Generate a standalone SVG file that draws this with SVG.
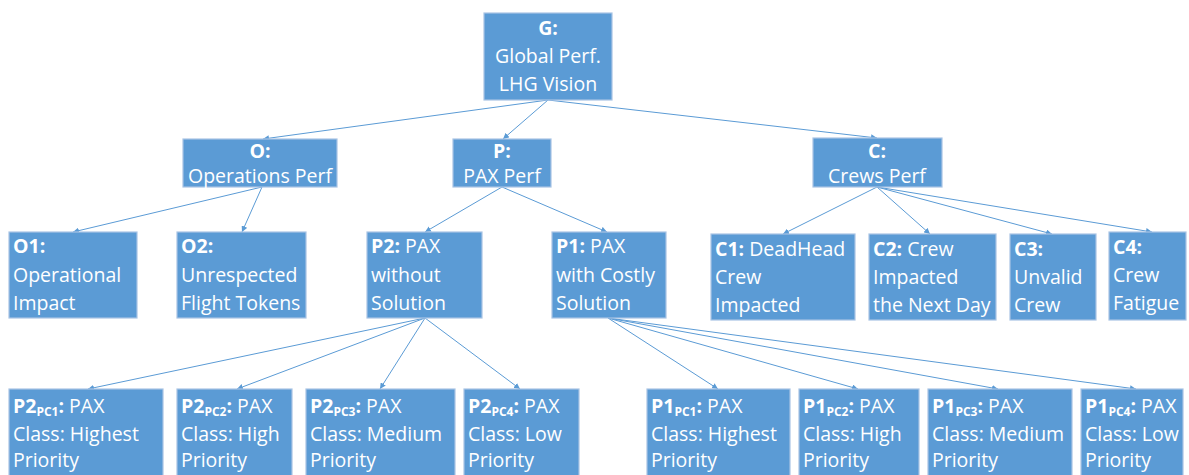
<svg xmlns="http://www.w3.org/2000/svg" width="1189" height="475" viewBox="0 0 1189 475">
<defs>
<marker id="ah" viewBox="0 0 10 10" refX="10" refY="5" markerWidth="6" markerHeight="6" orient="auto" markerUnits="userSpaceOnUse">
<path d="M0,0 L10,5 L0,10 z" fill="#5B9BD5"/>
</marker>
</defs>
<style>
.box{fill:#5B9BD5;stroke:#A9C4E4;stroke-width:1.2}
text{font-family:"Open Sans","Noto Sans",sans-serif;font-size:19.5px;fill:#ffffff}
.c{text-anchor:middle}
.b{font-weight:bold}
.s{font-size:12px;font-weight:bold}
.e{stroke:#5B9BD5;stroke-width:1;fill:none;marker-end:url(#ah)}
</style>
<rect width="1189" height="475" fill="#ffffff"/>
<g id="connectors">
<line class="e" x1="548" y1="100" x2="263" y2="139"/>
<line class="e" x1="548" y1="100" x2="503" y2="139"/>
<line class="e" x1="548" y1="100" x2="877" y2="138"/>
<line class="e" x1="262" y1="187" x2="73" y2="232"/>
<line class="e" x1="262" y1="187" x2="242" y2="232"/>
<line class="e" x1="502" y1="187" x2="425" y2="232"/>
<line class="e" x1="502" y1="187" x2="607" y2="232"/>
<line class="e" x1="877" y1="187" x2="783" y2="234"/>
<line class="e" x1="877" y1="187" x2="930" y2="234"/>
<line class="e" x1="877" y1="187" x2="1052" y2="234"/>
<line class="e" x1="877" y1="187" x2="1152" y2="232"/>
<line class="e" x1="425" y1="318" x2="88" y2="389"/>
<line class="e" x1="425" y1="318" x2="237" y2="389"/>
<line class="e" x1="425" y1="318" x2="380" y2="389"/>
<line class="e" x1="425" y1="318" x2="520" y2="389"/>
<line class="e" x1="608" y1="318" x2="718" y2="389"/>
<line class="e" x1="608" y1="318" x2="858" y2="389"/>
<line class="e" x1="608" y1="318" x2="998" y2="389"/>
<line class="e" x1="608" y1="318" x2="1136" y2="389"/>
</g>
<g id="G">
<rect class="box" x="484" y="13" width="128" height="87"/>
<text class="c b" x="548" y="35">G:</text>
<text class="c" x="548" y="63">Global Perf.</text>
<text class="c" x="548" y="91">LHG Vision</text>
</g>
<g id="O">
<rect class="box" x="183" y="139" width="154" height="48"/>
<text class="c b" x="260" y="158">O:</text>
<text class="c" x="260" y="183">Operations Perf</text>
</g>
<g id="P">
<rect class="box" x="453" y="139" width="98" height="48"/>
<text class="c b" x="502" y="158">P:</text>
<text class="c" x="502" y="183">PAX Perf</text>
</g>
<g id="C">
<rect class="box" x="813" y="138" width="129" height="49"/>
<text class="c b" x="877" y="158">C:</text>
<text class="c" x="877" y="183">Crews Perf</text>
</g>
<g id="O1">
<rect class="box" x="9" y="232" width="128" height="86"/>
<text class="b" x="13" y="253">O1:</text>
<text x="13" y="282">Operational</text>
<text x="13" y="310">Impact</text>
</g>
<g id="O2">
<rect class="box" x="177" y="232" width="129" height="86"/>
<text class="b" x="181" y="253">O2:</text>
<text x="181" y="282">Unrespected</text>
<text x="181" y="310">Flight Tokens</text>
</g>
<g id="P2">
<rect class="box" x="367" y="232" width="115" height="86"/>
<text x="371" y="253"><tspan class="b">P2:</tspan> PAX</text>
<text x="371" y="282">without</text>
<text x="371" y="310">Solution</text>
</g>
<g id="P1">
<rect class="box" x="552" y="232" width="114" height="86"/>
<text x="556" y="253"><tspan class="b">P1:</tspan> PAX</text>
<text x="556" y="282">with Costly</text>
<text x="556" y="310">Solution</text>
</g>
<g id="C1">
<rect class="box" x="711" y="234" width="144" height="86"/>
<text x="715" y="256"><tspan class="b">C1:</tspan> DeadHead</text>
<text x="715" y="284">Crew</text>
<text x="715" y="312">Impacted</text>
</g>
<g id="C2">
<rect class="box" x="869" y="234" width="127" height="86"/>
<text x="873" y="256"><tspan class="b">C2:</tspan> Crew</text>
<text x="873" y="284">Impacted</text>
<text x="873" y="312">the Next Day</text>
</g>
<g id="C3">
<rect class="box" x="1010" y="234" width="86" height="86"/>
<text class="b" x="1014" y="256">C3:</text>
<text x="1014" y="284">Unvalid</text>
<text x="1014" y="312">Crew</text>
</g>
<g id="C4">
<rect class="box" x="1109" y="232" width="77" height="88"/>
<text class="b" x="1113" y="254">C4:</text>
<text x="1113" y="282">Crew</text>
<text x="1113" y="310">Fatigue</text>
</g>
<g id="P2PC1">
<rect class="box" x="9" y="389" width="154" height="90"/>
<text x="13" y="413"><tspan class="b">P2</tspan><tspan class="s" dy="3">PC1</tspan><tspan class="b" dy="-3">:</tspan> PAX</text>
<text x="13" y="441">Class: Highest</text>
<text x="13" y="467">Priority</text>
</g>
<g id="P2PC2">
<rect class="box" x="177" y="389" width="115" height="90"/>
<text x="181" y="413"><tspan class="b">P2</tspan><tspan class="s" dy="3">PC2</tspan><tspan class="b" dy="-3">:</tspan> PAX</text>
<text x="181" y="441">Class: High</text>
<text x="181" y="467">Priority</text>
</g>
<g id="P2PC3">
<rect class="box" x="306" y="389" width="149" height="90"/>
<text x="310" y="413"><tspan class="b">P2</tspan><tspan class="s" dy="3">PC3</tspan><tspan class="b" dy="-3">:</tspan> PAX</text>
<text x="310" y="441">Class: Medium</text>
<text x="310" y="467">Priority</text>
</g>
<g id="P2PC4">
<rect class="box" x="464" y="389" width="115" height="90"/>
<text x="468" y="413"><tspan class="b">P2</tspan><tspan class="s" dy="3">PC4</tspan><tspan class="b" dy="-3">:</tspan> PAX</text>
<text x="468" y="441">Class: Low</text>
<text x="468" y="467">Priority</text>
</g>
<g id="P1PC1">
<rect class="box" x="647" y="389" width="143" height="90"/>
<text x="651" y="413"><tspan class="b">P1</tspan><tspan class="s" dy="3">PC1</tspan><tspan class="b" dy="-3">:</tspan> PAX</text>
<text x="651" y="441">Class: Highest</text>
<text x="651" y="467">Priority</text>
</g>
<g id="P1PC2">
<rect class="box" x="799" y="389" width="120" height="90"/>
<text x="803" y="413"><tspan class="b">P1</tspan><tspan class="s" dy="3">PC2</tspan><tspan class="b" dy="-3">:</tspan> PAX</text>
<text x="803" y="441">Class: High</text>
<text x="803" y="467">Priority</text>
</g>
<g id="P1PC3">
<rect class="box" x="928" y="389" width="144" height="90"/>
<text x="932" y="413"><tspan class="b">P1</tspan><tspan class="s" dy="3">PC3</tspan><tspan class="b" dy="-3">:</tspan> PAX</text>
<text x="932" y="441">Class: Medium</text>
<text x="932" y="467">Priority</text>
</g>
<g id="P1PC4">
<rect class="box" x="1081" y="389" width="102" height="90"/>
<text x="1085" y="413"><tspan class="b">P1</tspan><tspan class="s" dy="3">PC4</tspan><tspan class="b" dy="-3">:</tspan> PAX</text>
<text x="1085" y="441">Class: Low</text>
<text x="1085" y="467">Priority</text>
</g>
</svg>
